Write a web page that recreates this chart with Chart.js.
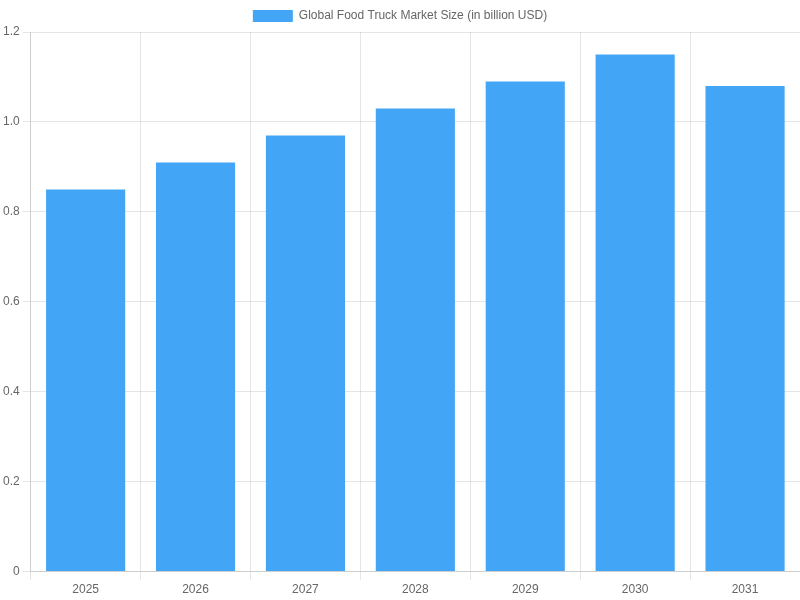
<!DOCTYPE html>
<html>
<head>
<meta charset="utf-8">
<script src="https://cdn.jsdelivr.net/npm/chart.js@4"></script>
<style>
  html, body { margin: 0; padding: 0; background: #fff; }
  #wrap { width: 800px; height: 600px; }
</style>
</head>
<body>
<div id="wrap"><canvas id="chart"></canvas></div>
<script>
// chart data
const years = ['2025', '2026', '2027', '2028', '2029', '2030', '2031'];
const marketSize = [0.85, 0.91, 0.97, 1.03, 1.09, 1.15, 1.08];
const seriesLabel = 'Global Food Truck Market Size (in billion USD)';

new Chart(document.getElementById('chart'), {
    type: 'bar',
    data: {
        labels: years,
        datasets: [{
            label: seriesLabel,
            data: marketSize,
            backgroundColor: '#42A5F5',
            borderWidth: 0
        }]
    },
    options: {
        responsive: true,
        maintainAspectRatio: false,
        animation: false,
        scales: {
            y: {
                beginAtZero: true,
                max: 1.2,
                ticks: { stepSize: 0.2 }
            }
        }
    }
});
</script>
</body>
</html>
